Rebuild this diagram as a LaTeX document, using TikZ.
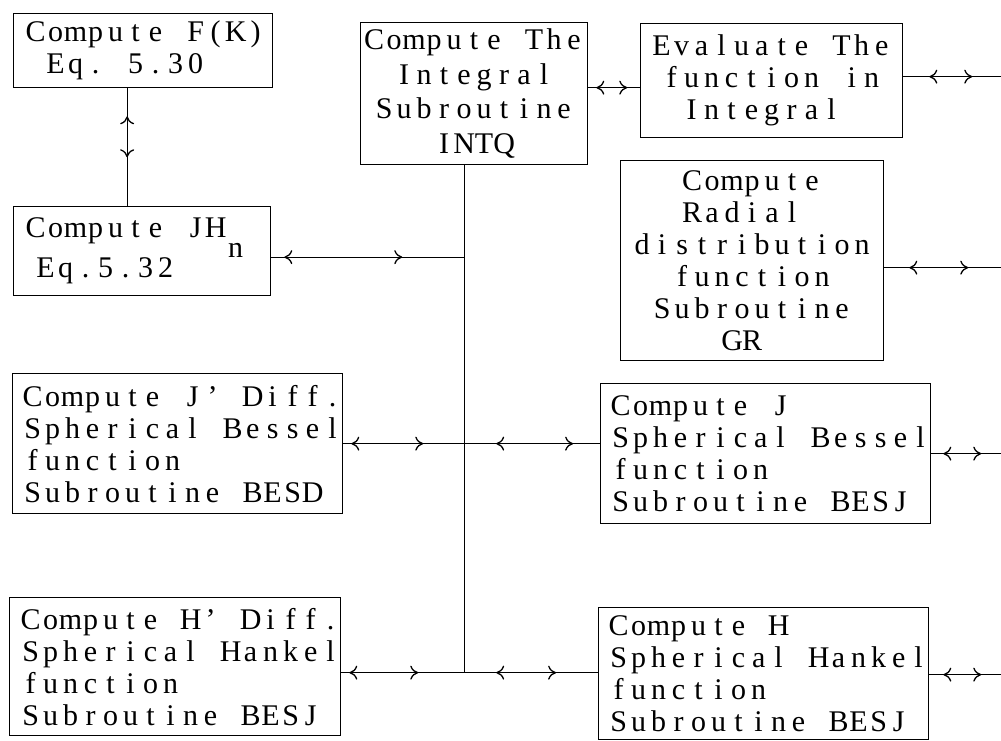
\documentclass[tikz,border=0pt]{standalone}
\usepackage{fontspec}
\setmainfont{Liberation Serif}
\usetikzlibrary{arrows.meta,decorations.markings}

% every character sits in a cell of the same width, as on the typed original
\newlength\cellw
\setlength\cellw{20pt}
\ExplSyntaxOn
\NewDocumentCommand\tw{m}{\str_map_inline:nn {#1} {\makebox[\cellw][c]{##1}}}
\ExplSyntaxOff

\tikzset{
  blk/.style={draw, line width=1.3pt, inner ysep=0pt, anchor=north west,
    font=\fontsize{30}{32}\selectfont},
  hd/.tip={To[length=8pt,width=14pt]},
  conn/.style 2 args={line width=1.3pt, decoration={markings,
      mark=at position #1 with {\arrowreversed{hd}},
      mark=at position #2 with {\arrow{hd}}}, postaction={decorate}},
}

\begin{document}
\begin{tikzpicture}[x=1pt,y=-1pt]
    \useasboundingbox (0,0) rectangle (1001,741);
    % boxes
    \node[blk, minimum width=259pt, minimum height=74pt, inner xsep=12pt, text width=235pt, align=left] (fk) at (13,13)
        {\tw{Compute F(K)}\\ \tw{ Eq. 5.30}};
    \node[blk, minimum width=257pt, minimum height=89pt, inner xsep=12pt, text width=233pt, align=left] (jh) at (13,206)
        {\tw{Compute JH}\smash{\raisebox{-20pt}{\tw{n}}}\\[8pt] \hspace*{10pt}\tw{Eq.5.32}};
    \node[blk, minimum width=227pt, minimum height=142pt, inner xsep=0pt, text width=227pt, align=center,
        font=\fontsize{30}{34.5}\selectfont] (intq) at (360,22)
        {\tw{Compute The}\\ \tw{Integral}\\ \tw{Subroutine}\\ \tw{INTQ}};
    \node[blk, minimum width=262pt, minimum height=114pt, inner xsep=0pt, text width=262pt, align=center] (eval) at (640,23)
        {\tw{Evaluate The}\\ \tw{function in}\\ \tw{Integral }};
    \node[blk, minimum width=263pt, minimum height=200pt, inner xsep=0pt, text width=263pt, align=center] (gr) at (620,160)
        {\tw{Compute}\\ \tw{Radial }\\ \tw{distribution}\\ \tw{function}\\ \tw{Subroutine}\\ \tw{GR }};
    \node[blk, minimum width=330pt, minimum height=140pt, inner xsep=10pt, text width=310pt, align=left] (besd) at (12,373)
        {\tw{Compute J' Diff.}\\ \tw{Spherical Bessel}\\ \tw{function}\\ \tw{Subroutine BESD}};
    \node[blk, minimum width=330pt, minimum height=140pt, inner xsep=10pt, text width=310pt, align=left] (jbox) at (600,383)
        {\tw{Compute J}\\ \tw{Spherical Bessel}\\ \tw{function}\\ \tw{Subroutine BESJ}};
    \node[blk, minimum width=331pt, minimum height=138pt, inner xsep=11pt, text width=309pt, align=left] (besh) at (9,597)
        {\tw{Compute H' Diff.}\\ \tw{Spherical Hankel}\\ \tw{function}\\ \tw{Subroutine BESJ}};
    \node[blk, minimum width=330pt, minimum height=132pt, inner xsep=10pt, text width=310pt, align=left] (hbox) at (598,607)
        {\tw{Compute H}\\ \tw{Spherical Hankel}\\ \tw{function}\\ \tw{Subroutine BESJ}};

    % helper points
    \coordinate (rim) at (1001,0);
    \coordinate (ttop) at ([xshift=-10pt]intq.south);
    \coordinate (fkb) at ([xshift=-16pt]fk.south);
    \coordinate (ew) at ([yshift=-7pt]eval.west);
    \coordinate (ee) at ([yshift=4pt]eval.east);
    \coordinate (je) at ([yshift=-6pt]jh.east);
    \coordinate (ge) at ([yshift=-7pt]gr.east);
    \coordinate (bh) at ([yshift=-6pt]besh.east);
    \coordinate (he) at ([yshift=-1pt]hbox.east);
    \coordinate (jA) at (besd.east -| ttop);
    \coordinate (jB) at (bh -| ttop);

    % connectors
    \draw[conn={28pt}{69pt}] (fkb) -- (fkb |- jh.north);
    \draw[conn={8pt}{39pt}] (ew -| intq.east) -- (ew);
    \draw[conn={26pt}{69pt}] (ee) -- (ee -| rim);
    \draw[line width=1.3pt] (ttop) -- (jB);
    \draw[conn={13pt}{131pt}] (je) -- (je -| ttop);
    \draw[conn={25pt}{84pt}] (ge) -- (ge -| rim);
    \draw[conn={8pt}{80pt}] (besd.east) -- (jA);
    \draw[conn={32pt}{109pt}] (jA) -- (jA -| jbox.west);
    \draw[conn={12pt}{50pt}] (jbox.east) -- (jbox.east -| rim);
    \draw[conn={8pt}{77pt}] (bh) -- (jB);
    \draw[conn={32pt}{92pt}] (jB) -- (jB -| hbox.west);
    \draw[conn={14pt}{52pt}] (he) -- (he -| rim);
\end{tikzpicture}
\end{document}
